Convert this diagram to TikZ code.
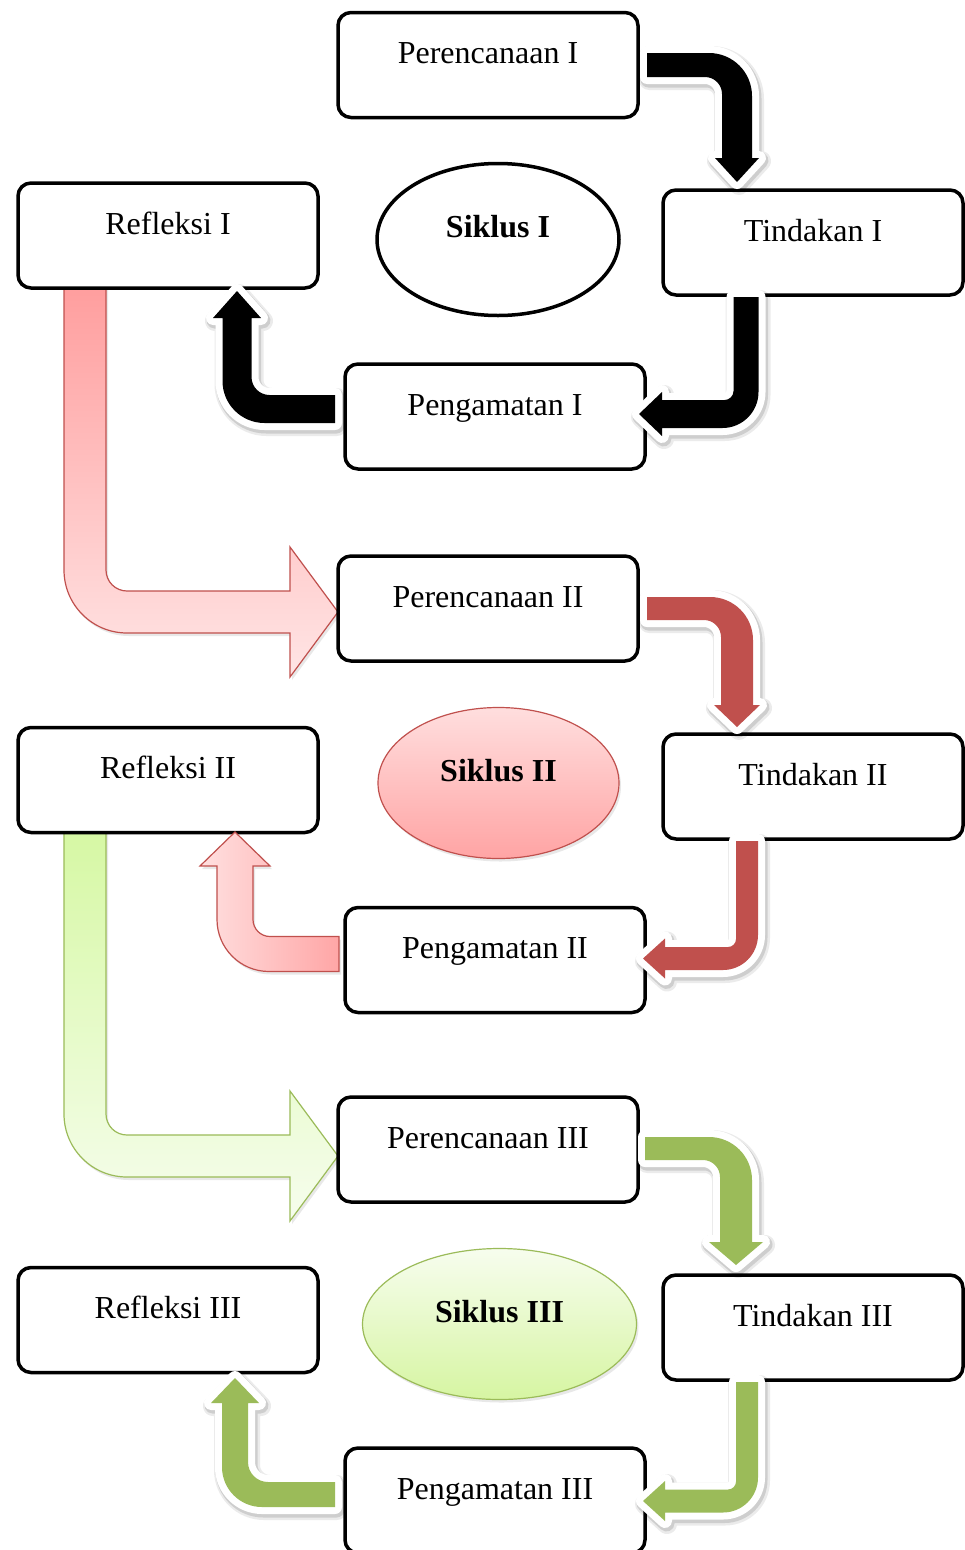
\documentclass[tikz,border=0pt]{standalone}
\usepackage{fontspec}
\setmainfont{Liberation Serif}
\usetikzlibrary{calc,shapes.geometric,shadows}

\definecolor{redA}{RGB}{192,80,77}
\definecolor{greenA}{RGB}{155,187,89}
\definecolor{pinkTop}{RGB}{255,158,158}
\definecolor{pinkMid}{RGB}{255,205,205}
\definecolor{pinkBot}{RGB}{255,229,229}
\definecolor{pinkL}{RGB}{255,224,224}
\definecolor{pinkR}{RGB}{255,166,166}
\definecolor{grnTop}{RGB}{214,248,164}
\definecolor{grnMid}{RGB}{234,251,210}
\definecolor{grnBot}{RGB}{246,253,237}
\definecolor{ellPinkT}{RGB}{255,222,222}
\definecolor{ellPinkB}{RGB}{255,164,164}
\definecolor{ellGrnT}{RGB}{247,253,238}
\definecolor{ellGrnB}{RGB}{214,245,162}

% half width of first leg, half width of second leg, outer radius, inner radius, head half width, head length
\newcommand{\setbent}[6]{\def\bwa{#1}\def\bwb{#2}\def\brad{#3}\def\birad{#4}\def\bhead{#5}\def\blen{#6}}
% #1 style, #2#3 start, #4#5 bend (centre line), #6#7 tip
\newcommand{\bentarrow}[7]{%
  \pgfmathsetmacro\bux{(#4-(#2))/veclen(#4-(#2),#5-(#3))}%
  \pgfmathsetmacro\buy{(#5-(#3))/veclen(#4-(#2),#5-(#3))}%
  \pgfmathsetmacro\bvx{(#6-(#4))/veclen(#6-(#4),#7-(#5))}%
  \pgfmathsetmacro\bvy{(#7-(#5))/veclen(#6-(#4),#7-(#5))}%
  \pgfmathsetmacro\bradk{\brad*0.4477}%
  \pgfmathsetmacro\biradk{\birad*0.4477}%
  \coordinate (bS) at (#2,#3);
  \coordinate (bC) at (#4,#5);
  \coordinate (bT) at (#6,#7);
  \coordinate (bu) at (\bux,\buy);
  \coordinate (bv) at (\bvx,\bvy);
  \coordinate (bOC) at ($(bC)+\bwb*(bu)-\bwa*(bv)$);
  \coordinate (bIC) at ($(bC)-\bwb*(bu)+\bwa*(bv)$);
  \coordinate (bH) at ($(bT)-\blen*(bv)$);
  \path[#1] ($(bS)-\bwa*(bv)$) -- ($(bOC)-\brad*(bu)$)
    .. controls ($(bOC)-\bradk*(bu)$) and ($(bOC)+\bradk*(bv)$) .. ($(bOC)+\brad*(bv)$)
    -- ($(bH)+\bwb*(bu)$) -- ($(bH)+\bhead*(bu)$) -- (bT)
    -- ($(bH)-\bhead*(bu)$) -- ($(bH)-\bwb*(bu)$)
    -- ($(bIC)+\birad*(bv)$)
    .. controls ($(bIC)+\biradk*(bv)$) and ($(bIC)-\biradk*(bu)$) .. ($(bIC)-\birad*(bu)$)
    -- ($(bS)+\bwa*(bv)$) -- cycle;
}

\tikzset{
  every node/.style={font=\fontsize{32}{38}\selectfont},
  stepbox/.style={draw=black, line width=3.5pt, rounded corners=13pt, fill=white,
    minimum width=300pt, inner sep=0pt, text height=51pt, text depth=54pt},
  cycleoval/.style={ellipse, inner sep=0pt, text height=10pt, text depth=14pt,
    font=\fontsize{32}{38}\selectfont\bfseries},
  whiteout/.style={
    preaction={draw=black, draw opacity=0.08, line width=20pt, line join=round,
      transform canvas={shift={(2pt,-3pt)}}},
    preaction={draw=black, draw opacity=0.12, line width=16pt, line join=round,
      transform canvas={shift={(1.5pt,-2.5pt)}}},
    preaction={draw=white, line width=14pt, line join=round}},
  blackarrow/.style={fill=black, whiteout},
  redarrow/.style={fill=redA, whiteout},
  greenarrow/.style={fill=greenA, whiteout},
  softshadow/.style={drop shadow={opacity=0.18, shadow xshift=2pt, shadow yshift=-3pt}},
  pinkbig/.style={top color=pinkTop, middle color=pinkMid, bottom color=pinkBot,
    draw=redA, line width=1.2pt, softshadow},
  greenbig/.style={top color=grnTop, middle color=grnMid, bottom color=grnBot,
    draw=greenA, line width=1.2pt, softshadow},
  pinksmall/.style={left color=pinkL, right color=pinkR,
    draw=redA, line width=1.2pt, softshadow},
}

\begin{document}
\begin{tikzpicture}[x=1pt, y=-1pt]
\useasboundingbox (0,0) rectangle (965,1550);
\fill[white] (0,0) rectangle (965,1550);

% ---- connecting arrows between cycles (behind boxes)
\setbent{21}{21}{63}{21}{65}{48}
\bentarrow{pinkbig}{85}{287}{85}{612}{338}{612}
\bentarrow{greenbig}{85}{831}{85}{1156}{338}{1156}

% ---- boxes
\node[stepbox] (P1) at (488,65)    {Perencanaan I};
\node[stepbox] (T1) at (813,242.5) {Tindakan I};
\node[stepbox] (R1) at (168,235.5) {Refleksi I};
\node[stepbox] (G1) at (495,416.5) {Pengamatan I};

\node[stepbox] (P2) at (488,608.5) {Perencanaan II};
\node[stepbox] (T2) at (813,786.5) {Tindakan II};
\node[stepbox] (R2) at (168,780)   {Refleksi II};
\node[stepbox] (G2) at (495,960)   {Pengamatan II};

\node[stepbox] (P3) at (488,1149.5) {Perencanaan III};
\node[stepbox] (T3) at (813,1327.5) {Tindakan III};
\node[stepbox] (R3) at (168,1320)   {Refleksi III};
\node[stepbox] (G3) at (495,1500.5) {Pengamatan III};

% ---- cycle ovals
\node[cycleoval, draw=black, line width=3.5pt, fill=white,
  minimum width=242pt, minimum height=152pt] (S1) at (498,239.5) {Siklus I};
\node[cycleoval, draw=redA, line width=1.2pt, top color=ellPinkT, bottom color=ellPinkB,
  softshadow, minimum width=241pt, minimum height=151pt] (S2) at (498.5,783) {Siklus II};
\node[cycleoval, draw=greenA, line width=1.2pt, top color=ellGrnT, bottom color=ellGrnB,
  softshadow, minimum width=274pt, minimum height=151pt] (S3) at (499.5,1324) {Siklus III};

% ---- cycle I arrows
\setbent{12}{15}{43}{17}{22}{24}
\bentarrow{blackarrow}{647}{65}{737}{65}{737}{182}
\setbent{12.5}{14}{36}{9}{22}{23}
\bentarrow{blackarrow}{746}{297}{746}{414}{639}{414}
\setbent{14}{14.5}{42}{18}{24}{27}
\bentarrow{blackarrow}{335}{409}{237}{409}{237}{291}

% ---- cycle II arrows
\setbent{11.5}{16}{43}{17}{23}{22}
\bentarrow{redarrow}{647}{608.5}{737}{608.5}{737}{727}
\setbent{11}{11.5}{35}{8}{20}{22}
\bentarrow{redarrow}{747}{841}{747}{958.5}{643}{958.5}
\setbent{17.5}{18}{52}{17}{35}{34}
\bentarrow{pinksmall}{339}{954}{235}{954}{235}{832}

% ---- cycle III arrows
\setbent{11.5}{16}{43}{17}{27}{23}
\bentarrow{greenarrow}{645}{1148.5}{736}{1148.5}{736}{1265}
\setbent{11}{11.5}{35}{8}{20}{22}
\bentarrow{greenarrow}{747}{1382}{747}{1501}{643}{1501}
\setbent{12.5}{13}{40}{20}{24}{25}
\bentarrow{greenarrow}{335}{1494.5}{235}{1494.5}{235}{1378}
\end{tikzpicture}
\end{document}
